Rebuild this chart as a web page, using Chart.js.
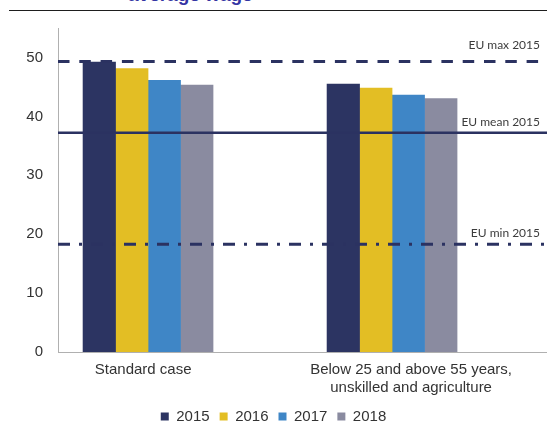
<!DOCTYPE html>
<html>
<head>
<meta charset="utf-8">
<script src="https://cdn.jsdelivr.net/npm/chart.js@4.4.1/dist/chart.umd.min.js"></script>
<style>
  body { margin: 0; width: 547px; height: 423px; overflow: hidden; background: #fff; position: relative; }
  #titulo { position: absolute; left: 128px; top: -15px; font: bold 19px/19px "Liberation Sans", Arial, sans-serif; color: #3535a3; white-space: nowrap; }
  #regua { position: absolute; left: 9px; right: 0; top: 10px; height: 0; border-top: 1px solid #1e1e1e; }
  canvas { position: absolute; left: 0; top: 0; }
</style>
</head>
<body>
<div id="titulo">average wage</div>
<div id="regua"></div>
<canvas id="grafico" width="547" height="434"></canvas>
<script>
// Categorias do eixo X
const categorias = ['Standard case', ['Below 25 and above 55 years,', 'unskilled and agriculture']];

// Valores de cada ano
const anos = ['2015', '2016', '2017', '2018'];
const valores2015 = [49.2, 45.5];
const valores2016 = [48.1, 44.8];
const valores2017 = [46.1, 43.6];
const valores2018 = [45.3, 43.0];

// Linhas de referência da UE
const valoresUE = [49.3, 37.2, 18.3];
const rotulosUE = ['EU max 2015', 'EU mean 2015', 'EU min 2015'];

// Marcas do eixo Y
const ticksY = [0, 10, 20, 30, 40, 50];

// Cores e estilos (fora dos dados)
const cores = ['#2c3462', '#e3be24', '#3f86c6', '#8a8ba0'];
const corLinha = '#2b3261';
const estilosUE = [
    { tracejado: [11.5, 9.8], largura: 3, deslocRotulo: 16 },
    { tracejado: [], largura: 2.5, deslocRotulo: 11 },
    { tracejado: [12, 9, 3, 9], largura: 3, deslocRotulo: 11 }
];

Chart.defaults.font.family = '"Liberation Sans", Arial, sans-serif';
Chart.defaults.color = '#333333';

// Plugin simples para desenhar as linhas da UE por cima das barras
const pluginLinhasUE = {
    id: 'linhasUE',
    afterDatasetsDraw(chart) {
        const { ctx, chartArea, scales } = chart;
        ctx.save();
        valoresUE.forEach((valor, i) => {
            const y = scales.y.getPixelForValue(valor);
            const estilo = estilosUE[i];
            ctx.beginPath();
            ctx.setLineDash(estilo.tracejado);
            ctx.lineWidth = estilo.largura;
            ctx.strokeStyle = corLinha;
            ctx.moveTo(chartArea.left, y);
            ctx.lineTo(chartArea.right, y);
            ctx.stroke();
            ctx.setLineDash([]);
            ctx.font = '12px Lato';
            ctx.fillStyle = '#3c3c3c';
            ctx.textAlign = 'right';
            ctx.textBaseline = 'middle';
            ctx.fillText(rotulosUE[i], chartArea.right - 7, y - estilo.deslocRotulo);
        });
        ctx.restore();
    }
};

const series = [valores2015, valores2016, valores2017, valores2018];

const ctx = document.getElementById('grafico').getContext('2d');
new Chart(ctx, {
    type: 'bar',
    data: {
        datasets: series.map((valores, i) => ({
            label: anos[i],
            data: valores.map((v, j) => ({ x: j, y: v })),
            backgroundColor: cores[i],
            borderWidth: 0,
            barThickness: 32.5
        }))
    },
    options: {
        responsive: false,
        animation: false,
        layout: { padding: { top: 28, left: 0, right: 0, bottom: 0 } },
        scales: {
            x: {
                type: 'linear',
                offset: false,
                min: -0.369,
                max: 1.635,
                grid: { display: false, drawTicks: false },
                border: { display: true, color: '#b0b0b0', width: 1 },
                afterBuildTicks: (eixo) => {
                    eixo.ticks = [{ value: -0.02 }, { value: 1.078 }];
                },
                afterFit: (eixo) => { eixo.height = 47; },
                ticks: {
                    padding: 9,
                    maxRotation: 0,
                    autoSkip: false,
                    font: { size: 15, lineHeight: 1.2 },
                    color: '#333333',
                    callback: (valor, indice) => categorias[indice]
                }
            },
            y: {
                min: 0,
                max: 55,
                grid: { display: false, drawTicks: false },
                border: { display: true, color: '#b0b0b0', width: 1 },
                afterBuildTicks: (eixo) => {
                    eixo.ticks = ticksY.map(v => ({ value: v }));
                },
                afterFit: (eixo) => { eixo.width = 58; },
                ticks: {
                    padding: 15,
                    font: { size: 15 },
                    color: '#333333'
                }
            }
        },
        plugins: {
            legend: {
                position: 'bottom',
                labels: {
                    boxWidth: 8,
                    boxHeight: 8,
                    padding: 10,
                    font: { size: 15 },
                    color: '#333333'
                }
            },
            tooltip: { enabled: false }
        }
    },
    plugins: [pluginLinhasUE]
});
</script>
</body>
</html>
